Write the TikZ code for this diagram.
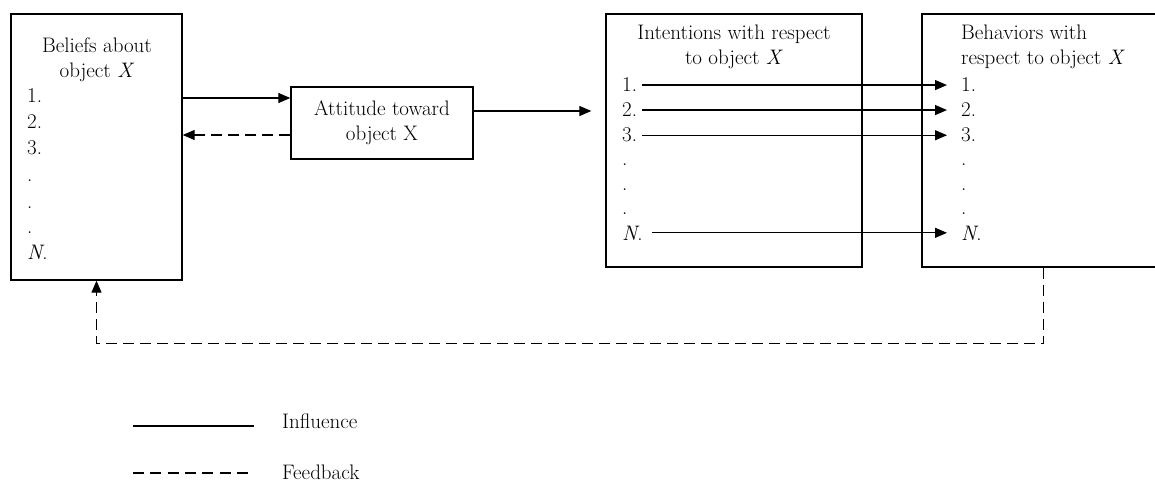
\documentclass[tikz,border=0pt]{standalone}
\usetikzlibrary{arrows.meta}
\begin{document}
\begin{tikzpicture}[x=1pt,y=-1pt,
  every node/.style={font=\fontsize{21}{25}\selectfont, inner sep=0pt},
  box/.style={draw, line width=1.4pt, rectangle},
  lt/.style={anchor=base west},
  ct/.style={anchor=base},
  infl/.style={line width=1.3pt, -{Triangle[length=12pt,width=10pt]}},
  fbk/.style={line width=1.3pt, dash pattern=on 11pt off 6pt, -{Triangle[length=12pt,width=10pt]}},
  legline/.style={line width=1.3pt},
  legdash/.style={line width=1.3pt, dash pattern=on 11pt off 6.3pt}]
\useasboundingbox (0,0) rectangle (1155,481);

% boxes
\node[box, minimum width=171pt, minimum height=266pt] (bel) at (96.5,147) {};
\node[box, minimum width=182pt, minimum height=72pt, align=center] (att) at (382,123) {Attitude toward\\object X};
\node[box, minimum width=256pt, minimum height=253pt] (int) at (734,140.5) {};
\node[box, minimum width=243pt, minimum height=253pt] (beh) at (1043.5,140.5) {};

% beliefs text
\node[ct] (belh1) at (97,53) {Beliefs about};
\node[ct] (belh2) at (97,78) {object \textit{X}};
\node[lt] (b1) at (27,103) {1.};
\node[lt] (b2) at (27,129) {2.};
\node[lt] (b3) at (27,155) {3.};
\node[lt] (bd1) at (27,182) {.};
\node[lt] (bd2) at (27,208) {.};
\node[lt] (bd3) at (27,233) {.};
\node[lt] (bN) at (27,259) {\textit{N}.};

% intentions text
\node[ct] (inth1) at (734,40) {Intentions with respect};
\node[ct] (inth2) at (734,65) {to object \textit{X}};
\node[lt] (i1) at (622,92) {1.};
\node[lt] (i2) at (622,117) {2.};
\node[lt] (i3) at (622,142) {3.};
\node[lt] (id1) at (622,166) {.};
\node[lt] (id2) at (622,190) {.};
\node[lt] (id3) at (622,214) {.};
\node[lt] (iN) at (622,240) {\textit{N}.};

% behaviors text
\node[lt] (behh1) at (961,40) {Behaviors with};
\node[lt] (behh2) at (961,65) {respect to object \textit{X}};
\node[lt] (o1) at (961,92) {1.};
\node[lt] (o2) at (961,117) {2.};
\node[lt] (o3) at (961,142) {3.};
\node[lt] (od1) at (961,166) {.};
\node[lt] (od2) at (961,190) {.};
\node[lt] (od3) at (961,214) {.};
\node[lt] (oN) at (961,240) {\textit{N}.};

% connectors
\draw[infl] (bel.east |- 0,98) -- (att.west |- 0,98);
\draw[fbk] (att.west |- 0,135) -- (bel.east |- 0,135);
\draw[infl, shorten >=14pt] (att.east |- 0,111) -- (int.west |- 0,111);
\draw[infl, shorten <=5pt, shorten >=14pt] (i1.east) -- (i1.east -| o1.west);
\draw[infl, shorten <=5pt, shorten >=14pt] (i2.east) -- (i2.east -| o2.west);
\draw[infl, shorten <=5pt, shorten >=14pt] (i3.east) -- (i3.east -| o3.west);
\draw[infl, shorten <=9pt, shorten >=14pt] (iN.east) -- (iN.east -| oN.west);
\draw[fbk] (beh.south) -- ++(0,76) -| (bel.south);

% legend
\coordinate (l1a) at (133,426);
\coordinate (l1b) at (254,426);
\coordinate (l2a) at (133,473);
\coordinate (l2b) at (254,473);
\draw[legline] (l1a) -- (l1b);
\draw[legdash] (l2a) -- (l2b);
\node[lt] (linf) at (282,428) {Influence};
\node[lt] (lfb) at (282,479) {Feedback};
\end{tikzpicture}
\end{document}
